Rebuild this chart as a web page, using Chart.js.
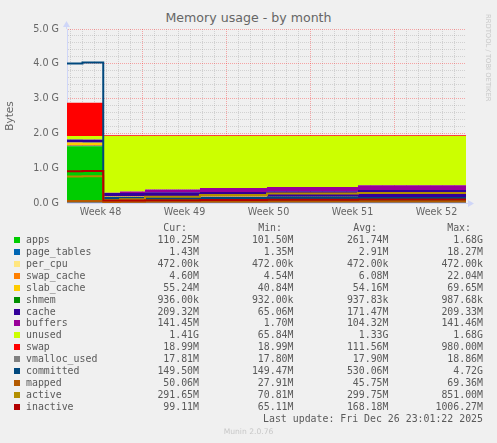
<!DOCTYPE html>
<html>
<head>
<meta charset="utf-8">
<script src="https://cdn.jsdelivr.net/npm/chart.js@4.4.1/dist/chart.umd.min.js"></script>
<style>
  body { margin: 0; width: 497px; height: 443px; overflow: hidden; position: relative;
         background: #f0f0f0; font-family: 'DejaVu Sans', sans-serif; color: #666; }
  #title { position: absolute; left: 0; top: 10px; width: 497px; text-align: center;
           font-size: 12.6px; line-height: 16px; }
  #wrap { position: absolute; left: 0; top: 0; width: 497px; height: 225px; }
  #side { position: absolute; left: 483px; top: 14px; writing-mode: vertical-rl;
          font-size: 6.8px; line-height: 10px; color: #c8c8c8; white-space: nowrap; }
  .lg { position: absolute; font-family: 'DejaVu Sans Mono', monospace; font-size: 9.9px;
        line-height: 12px; white-space: pre; color: #5a5a5a; }
  .sq { position: absolute; width: 6px; height: 6px; }
  #munin { position: absolute; left: 0; width: 497px; top: 426px; text-align: center;
           font-size: 7.6px; line-height: 11px; color: #c8c8c8; }
</style>
</head>
<body>
<div id="title">Memory usage - by month</div>
<div id="wrap"><canvas id="memChart" width="497" height="225"></canvas></div>
<div id="side">RRDTOOL / TOBI OETIKER</div>
<div id="legend"></div>
<div id="munin">Munin 2.0.76</div>
<script>
// Munin "Memory usage - by month" redrawn with Chart.js

// time axis, days counted from the start of week 49
const days = [-6.29, -5.0, -3.27, -1.875, 0.21, 4.79, 10.375, 17.96, 26.96];
const weekLabels = ['Week 48', 'Week 49', 'Week 50', 'Week 51', 'Week 52'];
const weekCentres = [-3.5, 3.5, 10.5, 17.5, 24.5];
const yLabels = ['0.0 G', '1.0 G', '2.0 G', '3.0 G', '4.0 G', '5.0 G'];

// stacked areas (G)
const apps = [1.63, 1.63, 0.14, 0.135, 0.13, 0.125, 0.115, 0.108, 0.108];
const pageTables = [0.017, 0.015, 0.002, 0.0015, 0.0015, 0.0015, 0.0014, 0.0014, 0.0014];
const perCpu = [0.00045, 0.00045, 0.00045, 0.00045, 0.00045, 0.00045, 0.00045, 0.00045, 0.00045];
const swapCache = [0.021, 0.021, 0.0045, 0.0045, 0.0045, 0.0045, 0.0045, 0.0045, 0.0045];
const slabCache = [0.068, 0.068, 0.04, 0.045, 0.05, 0.052, 0.054, 0.054, 0.054];
const shmem = [0.00096, 0.00096, 0.0009, 0.0009, 0.0009, 0.0009, 0.0009, 0.0009, 0.0009];
const cache = [0.085, 0.085, 0.1, 0.1, 0.12, 0.13, 0.16, 0.204, 0.204];
const buffers = [0.002, 0.002, 0.005, 0.045, 0.08, 0.115, 0.125, 0.138, 0.138];
const unused = [0.10, 0.103, 1.632, 1.593, 1.538, 1.496, 1.464, 1.414, 1.414];
const swap = [0.955, 0.955, 0.0185, 0.0185, 0.0185, 0.0185, 0.0185, 0.0185, 0.0185];

// lines (G)
const vmallocUsed = [0.0174, 0.0174, 0.0174, 0.0174, 0.0174, 0.0174, 0.0174, 0.0174, 0.0174];
const committed = [4.01, 4.04, 0.146, 0.146, 0.146, 0.146, 0.146, 0.146, 0.146];
const mapped = [0.055, 0.055, 0.03, 0.035, 0.04, 0.045, 0.047, 0.049, 0.049];
const active = [0.76, 0.77, 0.08, 0.11, 0.18, 0.23, 0.275, 0.285, 0.29];
const inactive = [0.91, 0.92, 0.07, 0.075, 0.08, 0.085, 0.09, 0.097, 0.097];

// legend table
const names = ['apps', 'page_tables', 'per_cpu', 'swap_cache', 'slab_cache', 'shmem', 'cache', 'buffers',
  'unused', 'swap', 'vmalloc_used', 'committed', 'mapped', 'active', 'inactive'];
const colors = ['#00CC00', '#0066B3', '#FFE680', '#FF8000', '#FFCC00', '#008F00', '#330099', '#990099',
  '#CCFF00', '#FF0000', '#808080', '#00487D', '#B35A00', '#B38F00', '#B30000'];
const curVals = ['110.25M', '1.43M', '472.00k', '4.60M', '55.24M', '936.00k', '209.32M', '141.45M',
  '1.41G', '18.99M', '17.81M', '149.50M', '50.06M', '291.65M', '99.11M'];
const minVals = ['101.50M', '1.35M', '472.00k', '4.54M', '40.84M', '932.00k', '65.06M', '1.70M',
  '65.84M', '18.99M', '17.80M', '149.47M', '27.91M', '70.81M', '65.11M'];
const avgVals = ['261.74M', '2.91M', '472.00k', '6.08M', '54.16M', '937.83k', '171.47M', '104.32M',
  '1.33G', '111.56M', '17.90M', '530.06M', '45.75M', '299.75M', '168.18M'];
const maxVals = ['1.68G', '18.27M', '472.00k', '22.04M', '69.65M', '987.68k', '209.33M', '141.46M',
  '1.68G', '980.00M', '18.86M', '4.72G', '69.36M', '851.00M', '1006.27M'];
const lastUpdate = 'Last update: Fri Dec 26 23:01:22 2025';

const axisColor = '#CFD6F8';
const minorGrid = 'rgba(120,120,120,0.26)';
const majorGrid = 'rgba(255,0,0,0.32)';

function points(values) {
  return values.map((v, i) => ({ x: days[i], y: v }));
}

function buildDatasets() {
  const areas = [apps, pageTables, perCpu, swapCache, slabCache, shmem, cache, buffers, unused, swap];
  const lines = [vmallocUsed, committed, mapped, active, inactive];
  const sets = [];

  // lines first so they are painted on top (index 0 drawn last)
  for (let i = lines.length - 1; i >= 0; i--) {
    sets.push({
      label: names[10 + i],
      data: points(lines[i]),
      stack: 'line' + i,
      borderColor: colors[10 + i],
      borderWidth: 2,
      fill: false,
      stepped: true,
      pointRadius: 0
    });
  }
  areas.forEach((arr, i) => {
    sets.push({
      label: names[i],
      data: points(arr),
      stack: 'mem',
      borderColor: 'rgba(0,0,0,0)',
      borderWidth: 0,
      backgroundColor: colors[i],
      fill: i === 0 ? 'origin' : '-1',
      stepped: true,
      pointRadius: 0
    });
  });
  return sets;
}

// rrdtool style axis arrows
const axisArrows = {
  id: 'axisArrows',
  afterDraw(chart) {
    const { ctx, chartArea: a } = chart;
    ctx.save();
    ctx.strokeStyle = axisColor;
    ctx.fillStyle = axisColor;
    ctx.lineWidth = 1;
    ctx.beginPath();
    ctx.moveTo(a.right, a.bottom + 0.5);
    ctx.lineTo(a.right + 4, a.bottom + 0.5);
    ctx.moveTo(a.left - 0.5, a.top);
    ctx.lineTo(a.left - 0.5, a.top - 3);
    ctx.stroke();
    ctx.beginPath();
    ctx.moveTo(a.right + 2, a.bottom - 3);
    ctx.lineTo(a.right + 8, a.bottom + 0.5);
    ctx.lineTo(a.right + 2, a.bottom + 4);
    ctx.closePath();
    ctx.fill();
    ctx.beginPath();
    ctx.moveTo(a.left - 4, a.top - 2);
    ctx.lineTo(a.left - 0.5, a.top - 8);
    ctx.lineTo(a.left + 3, a.top - 2);
    ctx.closePath();
    ctx.fill();
    ctx.restore();
  }
};

function isWhole(v) {
  return Math.abs(v - Math.round(v)) < 1e-6;
}

function createChart() {
  Chart.defaults.font.family = "'DejaVu Sans', sans-serif";
  Chart.defaults.color = '#666';

  const ctx = document.getElementById('memChart').getContext('2d');
  return new Chart(ctx, {
    type: 'line',
    data: { datasets: buildDatasets() },
    plugins: [axisArrows],
    options: {
      responsive: false,
      animation: false,
      events: [],
      layout: { padding: { left: 0, right: 31, top: 29, bottom: 0 } },
      plugins: {
        legend: { display: false },
        tooltip: { enabled: false },
        title: { display: false }
      },
      scales: {
        x: {
          type: 'linear',
          min: -6.29,
          max: 26.96,
          z: 1,
          afterFit: scale => { scale.height = 22; },
          afterBuildTicks: scale => {
            const ticks = [];
            for (let d = -6; d <= 26; d++) ticks.push({ value: d });
            weekCentres.forEach(c => ticks.push({ value: c }));
            ticks.sort((p, q) => p.value - q.value);
            scale.ticks = ticks;
          },
          ticks: {
            autoSkip: false,
            maxRotation: 0,
            padding: 4,
            color: '#666',
            font: { size: 9.6 },
            callback: value => {
              const idx = weekCentres.indexOf(value);
              return idx >= 0 ? weekLabels[idx] : '';
            }
          },
          grid: {
            drawTicks: false,
            lineWidth: 1,
            color: c => {
              const v = c.tick ? c.tick.value : 0;
              if (!isWhole(v)) return 'rgba(0,0,0,0)';
              return Math.round(v) % 7 === 0 ? majorGrid : minorGrid;
            }
          },
          border: { color: axisColor, width: 1, dash: [1, 1] }
        },
        y: {
          type: 'linear',
          stacked: true,
          min: 0,
          max: 5,
          z: 1,
          afterFit: scale => { scale.width = 67; },
          afterBuildTicks: scale => {
            const ticks = [];
            for (let i = 0; i <= 25; i++) ticks.push({ value: i / 5 });
            scale.ticks = ticks;
          },
          ticks: {
            autoSkip: false,
            padding: 8,
            color: '#666',
            font: { size: 9.6 },
            callback: value => isWhole(value) ? yLabels[Math.round(value)] : ''
          },
          grid: {
            drawTicks: false,
            lineWidth: 1,
            color: c => {
              const v = c.tick ? c.tick.value : 0;
              return isWhole(v) ? majorGrid : minorGrid;
            }
          },
          border: { color: axisColor, width: 1, dash: [1, 1] },
          title: {
            display: true,
            text: 'Bytes',
            color: '#666',
            font: { size: 10.5 },
            padding: { top: 4, bottom: 0 }
          }
        }
      }
    }
  });
}

// legend table under the graph
function addText(text, top, opts) {
  const el = document.createElement('div');
  el.className = 'lg';
  el.textContent = text;
  el.style.top = top + 'px';
  if (opts.right !== undefined) {
    el.style.right = opts.right + 'px';
    el.style.textAlign = 'right';
  } else {
    el.style.left = opts.left + 'px';
  }
  document.getElementById('legend').appendChild(el);
}

function buildLegend() {
  const box = document.getElementById('legend');
  const headers = [['Cur:', 187], ['Min:', 282], ['Avg:', 377], ['Max:', 471]];
  const columns = [[curVals, 199], [minVals, 293.5], [avgVals, 388.5], [maxVals, 483]];
  const rowStep = 11.97;
  const firstRow = 239.7;

  headers.forEach(([txt, edge]) => addText(txt, 227.7 - 6, { right: 497 - edge }));

  names.forEach((name, i) => {
    const y = firstRow + i * rowStep;
    const sq = document.createElement('div');
    sq.className = 'sq';
    sq.style.left = '14px';
    sq.style.top = (y - 3) + 'px';
    sq.style.background = colors[i];
    box.appendChild(sq);
    addText(name, y - 6, { left: 26 });
    columns.forEach(([vals, edge]) => addText(vals[i], y - 6, { right: 497 - edge }));
  });

  addText(lastUpdate, firstRow + names.length * rowStep - 6, { right: 497 - 483 });
}

document.addEventListener('DOMContentLoaded', () => {
  createChart();
  buildLegend();
});
</script>
</body>
</html>
